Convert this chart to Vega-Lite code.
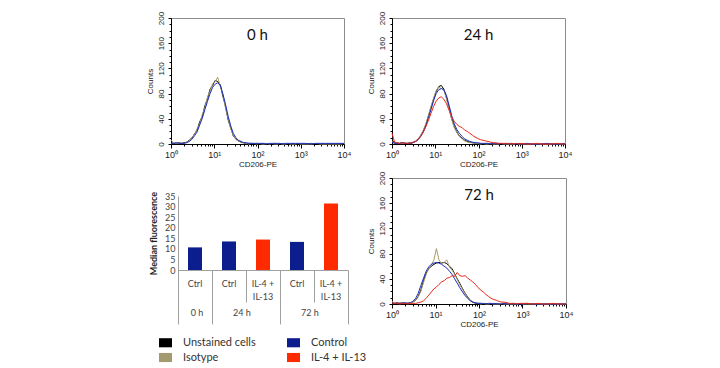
{
  "$schema": "https://vega.github.io/schema/vega-lite/v6.json",
  "padding": {"left": 145, "top": 10, "right": 5, "bottom": 5},
  "background": "#ffffff",
  "config": {
    "view": {"stroke": "#8c8c8c", "strokeWidth": 1},
    "axis": {"grid": false},
    "title": {"font": "Lato", "fontSize": 15, "fontWeight": "normal", "color": "#111111", "anchor": "middle", "baseline": "middle", "frame": "group", "offset": -32}
  },
  "datasets": {
    "h0": [
      {"x": 1, "unstained": 2, "isotype": 6, "control": 1},
      {"x": 1.15, "unstained": 1, "isotype": 2, "control": 1},
      {"x": 1.3, "unstained": 1, "isotype": 1, "control": 2},
      {"x": 1.5, "unstained": 2, "isotype": 1, "control": 1},
      {"x": 1.75, "unstained": 1, "isotype": 2, "control": 1},
      {"x": 2, "unstained": 2, "isotype": 1, "control": 1},
      {"x": 2.3, "unstained": 3, "isotype": 3, "control": 2},
      {"x": 2.65, "unstained": 6, "isotype": 5, "control": 4},
      {"x": 3, "unstained": 9, "isotype": 10, "control": 7},
      {"x": 3.5, "unstained": 16, "isotype": 15, "control": 13},
      {"x": 4, "unstained": 22, "isotype": 24, "control": 19},
      {"x": 4.6, "unstained": 35, "isotype": 32, "control": 30},
      {"x": 5.3, "unstained": 44, "isotype": 47, "control": 41},
      {"x": 6.1, "unstained": 61, "isotype": 58, "control": 55},
      {"x": 7, "unstained": 72, "isotype": 75, "control": 68},
      {"x": 8, "unstained": 87, "isotype": 84, "control": 80},
      {"x": 9.2, "unstained": 93, "isotype": 96, "control": 90},
      {"x": 10.5, "unstained": 101, "isotype": 99, "control": 95},
      {"x": 12, "unstained": 99, "isotype": 106, "control": 97},
      {"x": 13.8, "unstained": 94, "isotype": 91, "control": 93},
      {"x": 15.8, "unstained": 76, "isotype": 79, "control": 80},
      {"x": 18.2, "unstained": 60, "isotype": 57, "control": 63},
      {"x": 21, "unstained": 38, "isotype": 40, "control": 44},
      {"x": 24, "unstained": 26, "isotype": 24, "control": 29},
      {"x": 27.5, "unstained": 13, "isotype": 14, "control": 17},
      {"x": 31.6, "unstained": 8, "isotype": 7, "control": 10},
      {"x": 36, "unstained": 5, "isotype": 5, "control": 6},
      {"x": 42, "unstained": 3, "isotype": 2, "control": 4},
      {"x": 48, "unstained": 2, "isotype": 2, "control": 2},
      {"x": 55, "unstained": 1, "isotype": 1, "control": 2},
      {"x": 63, "unstained": 1, "isotype": 0, "control": 1},
      {"x": 72, "unstained": 1, "isotype": 1, "control": 1},
      {"x": 83, "unstained": 0, "isotype": 1, "control": 1},
      {"x": 95, "unstained": 1, "isotype": 0, "control": 1},
      {"x": 110, "unstained": 0, "isotype": 1, "control": 1},
      {"x": 126, "unstained": 1, "isotype": 0, "control": 1},
      {"x": 145, "unstained": 0, "isotype": 0, "control": 1},
      {"x": 166, "unstained": 1, "isotype": 1, "control": 0},
      {"x": 190, "unstained": 0, "isotype": 0, "control": 1},
      {"x": 220, "unstained": 0, "isotype": 1, "control": 1},
      {"x": 250, "unstained": 1, "isotype": 0, "control": 1},
      {"x": 290, "unstained": 0, "isotype": 0, "control": 1},
      {"x": 330, "unstained": 0, "isotype": 1, "control": 1},
      {"x": 380, "unstained": 1, "isotype": 0, "control": 0},
      {"x": 440, "unstained": 0, "isotype": 0, "control": 1},
      {"x": 500, "unstained": 0, "isotype": 1, "control": 1},
      {"x": 580, "unstained": 0, "isotype": 0, "control": 1},
      {"x": 660, "unstained": 1, "isotype": 0, "control": 1},
      {"x": 760, "unstained": 0, "isotype": 0, "control": 1},
      {"x": 870, "unstained": 0, "isotype": 1, "control": 1},
      {"x": 1000, "unstained": 0, "isotype": 0, "control": 1},
      {"x": 1300, "unstained": 0, "isotype": 0, "control": 1},
      {"x": 1700, "unstained": 1, "isotype": 0, "control": 0},
      {"x": 2200, "unstained": 0, "isotype": 1, "control": 1},
      {"x": 2900, "unstained": 0, "isotype": 0, "control": 1},
      {"x": 3800, "unstained": 0, "isotype": 0, "control": 1},
      {"x": 5000, "unstained": 0, "isotype": 0, "control": 1},
      {"x": 6500, "unstained": 0, "isotype": 0, "control": 1},
      {"x": 8500, "unstained": 0, "isotype": 0, "control": 1},
      {"x": 10000, "unstained": 0, "isotype": 1, "control": 1}
    ],
    "h24": [
      {"x": 1, "unstained": 6, "isotype": 4, "control": 3, "il4": 17},
      {"x": 1.15, "unstained": 2, "isotype": 1, "control": 1, "il4": 3},
      {"x": 1.3, "unstained": 1, "isotype": 2, "control": 1, "il4": 2},
      {"x": 1.5, "unstained": 1, "isotype": 1, "control": 1, "il4": 1},
      {"x": 1.75, "unstained": 2, "isotype": 1, "control": 2, "il4": 2},
      {"x": 2, "unstained": 1, "isotype": 2, "control": 1, "il4": 1},
      {"x": 2.3, "unstained": 1, "isotype": 1, "control": 1, "il4": 1},
      {"x": 2.65, "unstained": 1, "isotype": 2, "control": 2, "il4": 2},
      {"x": 3, "unstained": 2, "isotype": 3, "control": 2, "il4": 2},
      {"x": 3.5, "unstained": 4, "isotype": 5, "control": 4, "il4": 4},
      {"x": 4, "unstained": 7, "isotype": 8, "control": 7, "il4": 7},
      {"x": 4.6, "unstained": 13, "isotype": 14, "control": 12, "il4": 12},
      {"x": 5.3, "unstained": 21, "isotype": 22, "control": 19, "il4": 19},
      {"x": 6.1, "unstained": 31, "isotype": 33, "control": 29, "il4": 28},
      {"x": 7, "unstained": 45, "isotype": 46, "control": 42, "il4": 38},
      {"x": 8, "unstained": 58, "isotype": 60, "control": 55, "il4": 49},
      {"x": 9.2, "unstained": 72, "isotype": 73, "control": 69, "il4": 60},
      {"x": 10.5, "unstained": 83, "isotype": 85, "control": 80, "il4": 68},
      {"x": 12, "unstained": 91, "isotype": 90, "control": 86, "il4": 73},
      {"x": 13.8, "unstained": 93, "isotype": 88, "control": 88, "il4": 75},
      {"x": 15.8, "unstained": 87, "isotype": 86, "control": 86, "il4": 71},
      {"x": 18.2, "unstained": 74, "isotype": 71, "control": 77, "il4": 64},
      {"x": 21, "unstained": 57, "isotype": 55, "control": 61, "il4": 53},
      {"x": 24, "unstained": 40, "isotype": 39, "control": 45, "il4": 43},
      {"x": 27.5, "unstained": 28, "isotype": 26, "control": 32, "il4": 36},
      {"x": 31.6, "unstained": 19, "isotype": 18, "control": 23, "il4": 31},
      {"x": 36, "unstained": 13, "isotype": 12, "control": 17, "il4": 28},
      {"x": 42, "unstained": 9, "isotype": 8, "control": 12, "il4": 26},
      {"x": 48, "unstained": 6, "isotype": 5, "control": 8, "il4": 22},
      {"x": 55, "unstained": 4, "isotype": 3, "control": 6, "il4": 20},
      {"x": 63, "unstained": 3, "isotype": 2, "control": 4, "il4": 17},
      {"x": 72, "unstained": 2, "isotype": 2, "control": 3, "il4": 14},
      {"x": 83, "unstained": 1, "isotype": 1, "control": 2, "il4": 11},
      {"x": 95, "unstained": 1, "isotype": 1, "control": 2, "il4": 9},
      {"x": 110, "unstained": 1, "isotype": 0, "control": 1, "il4": 7},
      {"x": 126, "unstained": 0, "isotype": 1, "control": 1, "il4": 6},
      {"x": 145, "unstained": 1, "isotype": 0, "control": 1, "il4": 5},
      {"x": 166, "unstained": 0, "isotype": 0, "control": 1, "il4": 4},
      {"x": 190, "unstained": 1, "isotype": 1, "control": 0, "il4": 3},
      {"x": 220, "unstained": 0, "isotype": 0, "control": 1, "il4": 2},
      {"x": 250, "unstained": 0, "isotype": 0, "control": 1, "il4": 2},
      {"x": 290, "unstained": 1, "isotype": 0, "control": 0, "il4": 1},
      {"x": 330, "unstained": 0, "isotype": 1, "control": 1, "il4": 1},
      {"x": 380, "unstained": 0, "isotype": 0, "control": 0, "il4": 1},
      {"x": 440, "unstained": 0, "isotype": 0, "control": 1, "il4": 1},
      {"x": 500, "unstained": 1, "isotype": 0, "control": 0, "il4": 0},
      {"x": 580, "unstained": 0, "isotype": 0, "control": 1, "il4": 1},
      {"x": 660, "unstained": 0, "isotype": 0, "control": 0, "il4": 0},
      {"x": 760, "unstained": 0, "isotype": 1, "control": 0, "il4": 1},
      {"x": 870, "unstained": 0, "isotype": 0, "control": 1, "il4": 0},
      {"x": 1000, "unstained": 0, "isotype": 0, "control": 0, "il4": 1},
      {"x": 1300, "unstained": 0, "isotype": 0, "control": 1, "il4": 0},
      {"x": 1700, "unstained": 0, "isotype": 0, "control": 0, "il4": 0},
      {"x": 2200, "unstained": 0, "isotype": 0, "control": 0, "il4": 1},
      {"x": 2900, "unstained": 0, "isotype": 0, "control": 0, "il4": 0},
      {"x": 3800, "unstained": 0, "isotype": 0, "control": 1, "il4": 0},
      {"x": 5000, "unstained": 0, "isotype": 0, "control": 0, "il4": 0},
      {"x": 6500, "unstained": 0, "isotype": 0, "control": 0, "il4": 1},
      {"x": 8500, "unstained": 0, "isotype": 0, "control": 0, "il4": 0},
      {"x": 10000, "unstained": 0, "isotype": 0, "control": 1, "il4": 0}
    ],
    "h72": [
      {"x": 1, "unstained": 3, "isotype": 4, "control": 2, "il4": 2},
      {"x": 1.15, "unstained": 1, "isotype": 1, "control": 1, "il4": 1},
      {"x": 1.3, "unstained": 2, "isotype": 1, "control": 1, "il4": 1},
      {"x": 1.5, "unstained": 1, "isotype": 2, "control": 1, "il4": 0},
      {"x": 1.75, "unstained": 2, "isotype": 1, "control": 1, "il4": 1},
      {"x": 2, "unstained": 1, "isotype": 1, "control": 2, "il4": 1},
      {"x": 2.3, "unstained": 1, "isotype": 2, "control": 1, "il4": 0},
      {"x": 2.65, "unstained": 2, "isotype": 2, "control": 2, "il4": 1},
      {"x": 3, "unstained": 3, "isotype": 3, "control": 4, "il4": 1},
      {"x": 3.5, "unstained": 6, "isotype": 6, "control": 9, "il4": 1},
      {"x": 4, "unstained": 12, "isotype": 11, "control": 17, "il4": 2},
      {"x": 4.6, "unstained": 22, "isotype": 20, "control": 29, "il4": 3},
      {"x": 5.3, "unstained": 37, "isotype": 34, "control": 41, "il4": 5},
      {"x": 6.1, "unstained": 49, "isotype": 47, "control": 52, "il4": 9},
      {"x": 7, "unstained": 56, "isotype": 57, "control": 59, "il4": 14},
      {"x": 8, "unstained": 60, "isotype": 62, "control": 63, "il4": 19},
      {"x": 9.2, "unstained": 63, "isotype": 70, "control": 65, "il4": 24},
      {"x": 10.5, "unstained": 65, "isotype": 88, "control": 66, "il4": 27},
      {"x": 12, "unstained": 66, "isotype": 70, "control": 65, "il4": 31},
      {"x": 13.8, "unstained": 65, "isotype": 64, "control": 63, "il4": 35},
      {"x": 15.8, "unstained": 66, "isotype": 66, "control": 60, "il4": 37},
      {"x": 18.2, "unstained": 64, "isotype": 70, "control": 57, "il4": 41},
      {"x": 21, "unstained": 60, "isotype": 58, "control": 52, "il4": 42},
      {"x": 24, "unstained": 56, "isotype": 54, "control": 47, "il4": 45},
      {"x": 27.5, "unstained": 48, "isotype": 47, "control": 40, "il4": 44},
      {"x": 31.6, "unstained": 40, "isotype": 39, "control": 33, "il4": 50},
      {"x": 36, "unstained": 33, "isotype": 31, "control": 26, "il4": 45},
      {"x": 42, "unstained": 24, "isotype": 23, "control": 19, "il4": 44},
      {"x": 48, "unstained": 17, "isotype": 16, "control": 13, "il4": 45},
      {"x": 55, "unstained": 11, "isotype": 10, "control": 9, "il4": 41},
      {"x": 63, "unstained": 6, "isotype": 6, "control": 5, "il4": 38},
      {"x": 72, "unstained": 3, "isotype": 3, "control": 3, "il4": 35},
      {"x": 83, "unstained": 1, "isotype": 2, "control": 2, "il4": 31},
      {"x": 95, "unstained": 1, "isotype": 1, "control": 1, "il4": 26},
      {"x": 110, "unstained": 1, "isotype": 0, "control": 1, "il4": 22},
      {"x": 126, "unstained": 0, "isotype": 1, "control": 1, "il4": 19},
      {"x": 145, "unstained": 1, "isotype": 0, "control": 0, "il4": 15},
      {"x": 166, "unstained": 0, "isotype": 0, "control": 1, "il4": 12},
      {"x": 190, "unstained": 0, "isotype": 1, "control": 1, "il4": 9},
      {"x": 220, "unstained": 1, "isotype": 0, "control": 0, "il4": 7},
      {"x": 250, "unstained": 0, "isotype": 0, "control": 1, "il4": 6},
      {"x": 290, "unstained": 0, "isotype": 0, "control": 0, "il4": 4},
      {"x": 330, "unstained": 0, "isotype": 1, "control": 0, "il4": 3},
      {"x": 380, "unstained": 1, "isotype": 0, "control": 1, "il4": 3},
      {"x": 440, "unstained": 0, "isotype": 0, "control": 0, "il4": 2},
      {"x": 500, "unstained": 0, "isotype": 0, "control": 0, "il4": 1},
      {"x": 580, "unstained": 0, "isotype": 0, "control": 1, "il4": 1},
      {"x": 660, "unstained": 0, "isotype": 0, "control": 0, "il4": 1},
      {"x": 760, "unstained": 0, "isotype": 0, "control": 0, "il4": 0},
      {"x": 870, "unstained": 0, "isotype": 1, "control": 0, "il4": 1},
      {"x": 1000, "unstained": 0, "isotype": 0, "control": 0, "il4": 1},
      {"x": 1300, "unstained": 0, "isotype": 0, "control": 1, "il4": 1},
      {"x": 1700, "unstained": 0, "isotype": 0, "control": 0, "il4": 0},
      {"x": 2200, "unstained": 0, "isotype": 0, "control": 0, "il4": 1},
      {"x": 2900, "unstained": 0, "isotype": 0, "control": 0, "il4": 0},
      {"x": 3800, "unstained": 0, "isotype": 0, "control": 0, "il4": 0},
      {"x": 5000, "unstained": 0, "isotype": 0, "control": 0, "il4": 1},
      {"x": 6500, "unstained": 0, "isotype": 0, "control": 0, "il4": 0},
      {"x": 8500, "unstained": 0, "isotype": 0, "control": 0, "il4": 0},
      {"x": 10000, "unstained": 0, "isotype": 0, "control": 0, "il4": 0}
    ],
    "medians": [
      {"time": "0 h", "treatment": "Control", "sample": "0 h Control", "median": 10.7},
      {"time": "24 h", "treatment": "Control", "sample": "24 h Control", "median": 13.5},
      {"time": "24 h", "treatment": "IL-4 + IL-13", "sample": "24 h IL-4 + IL-13", "median": 14.4},
      {"time": "72 h", "treatment": "Control", "sample": "72 h Control", "median": 13.3},
      {"time": "72 h", "treatment": "IL-4 + IL-13", "sample": "72 h IL-4 + IL-13", "median": 31.4}
    ]
  },
  "spacing": 14,
  "resolve": {"scale": {"color": "shared", "stroke": "shared"}},
  "hconcat": [
    {
      "spacing": 22,
      "vconcat": [
        {
          "data": {"name": "h0"},
          "width": 173,
          "height": 126,
          "title": {"text": "0 h"},
          "transform": [{"fold": ["unstained", "isotype", "control"], "as": ["stain", "count"]}],
          "mark": {"type": "line", "strokeWidth": 1},
          "encoding": {
            "x": {
              "field": "x", "type": "quantitative",
              "scale": {"type": "log", "domain": [1, 10000]},
              "axis": {
                "title": "CD206-PE", "titleFont": "Liberation Sans", "titleFontSize": 8, "titleFontWeight": "normal", "titleColor": "#222222", "titlePadding": 1,
                "values": [1, 2, 3, 4, 5, 6, 7, 8, 9, 10, 20, 30, 40, 50, 60, 70, 80, 90, 100, 200, 300, 400, 500, 600, 700, 800, 900, 1000, 2000, 3000, 4000, 5000, 6000, 7000, 8000, 9000, 10000],
                "labelExpr": "datum.value == 1 ? '10⁰' : datum.value == 10 ? '10¹' : datum.value == 100 ? '10²' : datum.value == 1000 ? '10³' : datum.value == 10000 ? '10⁴' : ''",
                "labelFont": "Liberation Sans", "labelFontSize": 9, "labelColor": "#222222", "labelPadding": 2, "labelOverlap": false, "labelFlush": false, "labelBound": false,
                "tickSize": {"condition": {"test": "indexof([1, 10, 100, 1000, 10000], datum.value) >= 0", "value": 4}, "value": 2},
                "tickColor": "#000000", "domainColor": "#000000"
              }
            },
            "y": {
              "field": "count", "type": "quantitative",
              "scale": {"domain": [0, 200]},
              "axis": {
                "title": "Counts", "titleFont": "Liberation Sans", "titleFontSize": 8, "titleFontWeight": "normal", "titleColor": "#222222", "titlePadding": 3,
                "values": [0, 10, 20, 30, 40, 50, 60, 70, 80, 90, 100, 110, 120, 130, 140, 150, 160, 170, 180, 190, 200],
                "labelExpr": "datum.value % 40 == 0 ? datum.label : ''",
                "labelAngle": -90, "labelAlign": "center", "labelBaseline": "bottom",
                "labelFont": "Liberation Sans", "labelFontSize": 8, "labelColor": "#222222", "labelPadding": 3, "labelOverlap": false, "labelFlush": false, "labelBound": false,
                "tickSize": {"condition": {"test": "datum.value % 40 == 0", "value": 3}, "value": 2},
                "tickColor": "#000000", "domainColor": "#000000"
              }
            },
            "stroke": {
              "field": "stain", "type": "nominal",
              "scale": {"domain": ["unstained", "isotype", "control", "il4"], "range": ["#000000", "#a89b6c", "#1a2fc0", "#e8281a"]},
              "legend": null
            }
          }
        },
        {
          "data": {"name": "medians"},
          "width": 177,
          "height": 74,
          "view": {"stroke": null},
          "layer": [
            {
              "mark": {"type": "bar", "size": 14},
              "encoding": {
                "x": {
                  "field": "sample", "type": "nominal", "sort": null,
                  "scale": {"range": [7, 177], "paddingInner": 0, "paddingOuter": 0},
                  "axis": {
                    "orient": "bottom", "title": null, "labels": false,
                    "tickBand": "extent", "tickColor": "#a0a0a0", "domainColor": "#a0a0a0",
                    "tickSize": {"condition": {"test": "datum.value === '24 h Control' || datum.value === '72 h Control'", "value": 32}, "value": 54}
                  }
                },
                "y": {
                  "field": "median", "type": "quantitative",
                  "scale": {"domain": [0, 35]},
                  "axis": {
                    "title": "Median fluorescence", "titleFont": "Lato", "titleFontSize": 9, "titleFontWeight": "bold", "titleColor": "#222222", "titlePadding": 6,
                    "values": [0, 5, 10, 15, 20, 25, 30, 35], "ticks": false, "tickSize": 0, "offset": -7,
                    "labelFont": "Lato", "labelFontSize": 9, "labelColor": "#444444", "labelPadding": 3, "labelOverlap": false, "labelBound": false, "labelFlush": false,
                    "domainColor": "#a0a0a0"
                  }
                },
                "color": {
                  "field": "treatment", "type": "nominal",
                  "scale": {"domain": ["Unstained cells", "Isotype", "Control", "IL-4 + IL-13"], "range": ["#000000", "#a39a70", "#0c1d8e", "#ff2a00"]},
                  "legend": {
                    "orient": "none", "legendX": -12, "legendY": 318, "title": null, "columns": 2,
                    "symbolType": "M-1,-0.7H1V0.7H-1Z", "symbolSize": 169, "symbolStrokeWidth": 0,
                    "labelFont": "Lato", "labelFontSize": 11, "labelColor": "#333333", "labelOffset": 11,
                    "columnPadding": 31, "rowPadding": 3
                  }
                }
              }
            },
            {
              "mark": {"type": "point", "opacity": 0},
              "encoding": {
                "x": {
                  "field": "sample", "type": "nominal", "sort": null,
                  "axis": {
                    "orient": "bottom", "title": null, "domain": false, "ticks": false, "tickSize": 0, "labelPadding": 9, "labelAngle": 0,
                    "labelExpr": "indexof(datum.value, 'IL-4') >= 0 ? ['IL-4 +', 'IL-13'] : 'Ctrl'",
                    "labelFont": "Lato", "labelFontSize": 9, "labelColor": "#444444", "labelBaseline": "top", "labelLineHeight": 13, "labelOverlap": false
                  }
                },
                "y": {
                  "field": "median", "type": "quantitative",
                  "axis": {
                    "title": "Median fluorescence", "titleFont": "Lato", "titleFontSize": 9, "titleFontWeight": "bold", "titleColor": "#222222", "titlePadding": 6,
                    "values": [0, 5, 10, 15, 20, 25, 30, 35], "ticks": false, "tickSize": 0, "offset": -7,
                    "labelFont": "Lato", "labelFontSize": 9, "labelColor": "#444444", "labelPadding": 3, "labelOverlap": false, "labelBound": false, "labelFlush": false,
                    "domainColor": "#a0a0a0"
                  }
                }
              }
            },
            {
              "mark": {"type": "point", "opacity": 0},
              "encoding": {
                "x": {
                  "field": "sample", "type": "nominal", "sort": null,
                  "axis": {
                    "orient": "bottom", "title": null, "domain": false, "ticks": false, "tickSize": 0, "offset": 36, "labelPadding": 2, "labelAngle": 0,
                    "labelExpr": "datum.value === '0 h Control' ? '0 h' : datum.value === '24 h Control' ? '24 h' : datum.value === '72 h Control' ? '72 h' : ''",
                    "labelOffset": {"condition": {"test": "datum.value === '0 h Control'", "value": 2}, "value": 13},
                    "labelFont": "Lato", "labelFontSize": 9, "labelColor": "#444444", "labelBaseline": "top", "labelOverlap": false
                  }
                },
                "y": {
                  "field": "median", "type": "quantitative",
                  "axis": {
                    "title": "Median fluorescence", "titleFont": "Lato", "titleFontSize": 9, "titleFontWeight": "bold", "titleColor": "#222222", "titlePadding": 6,
                    "values": [0, 5, 10, 15, 20, 25, 30, 35], "ticks": false, "tickSize": 0, "offset": -7,
                    "labelFont": "Lato", "labelFontSize": 9, "labelColor": "#444444", "labelPadding": 3, "labelOverlap": false, "labelBound": false, "labelFlush": false,
                    "domainColor": "#a0a0a0"
                  }
                }
              }
            }
          ],
          "resolve": {"axis": {"x": "independent"}}
        }
      ]
    },
    {
      "spacing": 1,
      "vconcat": [
        {
          "data": {"name": "h24"},
          "width": 173,
          "height": 126,
          "title": {"text": "24 h"},
          "transform": [{"fold": ["unstained", "isotype", "control", "il4"], "as": ["stain", "count"]}],
          "mark": {"type": "line", "strokeWidth": 1},
          "encoding": {
            "x": {
              "field": "x", "type": "quantitative",
              "scale": {"type": "log", "domain": [1, 10000]},
              "axis": {
                "title": "CD206-PE", "titleFont": "Liberation Sans", "titleFontSize": 8, "titleFontWeight": "normal", "titleColor": "#222222", "titlePadding": 1,
                "values": [1, 2, 3, 4, 5, 6, 7, 8, 9, 10, 20, 30, 40, 50, 60, 70, 80, 90, 100, 200, 300, 400, 500, 600, 700, 800, 900, 1000, 2000, 3000, 4000, 5000, 6000, 7000, 8000, 9000, 10000],
                "labelExpr": "datum.value == 1 ? '10⁰' : datum.value == 10 ? '10¹' : datum.value == 100 ? '10²' : datum.value == 1000 ? '10³' : datum.value == 10000 ? '10⁴' : ''",
                "labelFont": "Liberation Sans", "labelFontSize": 9, "labelColor": "#222222", "labelPadding": 2, "labelOverlap": false, "labelFlush": false, "labelBound": false,
                "tickSize": {"condition": {"test": "indexof([1, 10, 100, 1000, 10000], datum.value) >= 0", "value": 4}, "value": 2},
                "tickColor": "#000000", "domainColor": "#000000"
              }
            },
            "y": {
              "field": "count", "type": "quantitative",
              "scale": {"domain": [0, 200]},
              "axis": {
                "title": "Counts", "titleFont": "Liberation Sans", "titleFontSize": 8, "titleFontWeight": "normal", "titleColor": "#222222", "titlePadding": 3,
                "values": [0, 10, 20, 30, 40, 50, 60, 70, 80, 90, 100, 110, 120, 130, 140, 150, 160, 170, 180, 190, 200],
                "labelExpr": "datum.value % 40 == 0 ? datum.label : ''",
                "labelAngle": -90, "labelAlign": "center", "labelBaseline": "bottom",
                "labelFont": "Liberation Sans", "labelFontSize": 8, "labelColor": "#222222", "labelPadding": 3, "labelOverlap": false, "labelFlush": false, "labelBound": false,
                "tickSize": {"condition": {"test": "datum.value % 40 == 0", "value": 3}, "value": 2},
                "tickColor": "#000000", "domainColor": "#000000"
              }
            },
            "stroke": {
              "field": "stain", "type": "nominal",
              "scale": {"domain": ["unstained", "isotype", "control", "il4"], "range": ["#000000", "#a89b6c", "#1a2fc0", "#e8281a"]},
              "legend": null
            }
          }
        },
        {
          "data": {"name": "h72"},
          "width": 174,
          "height": 126,
          "title": {"text": "72 h"},
          "transform": [{"fold": ["unstained", "isotype", "control", "il4"], "as": ["stain", "count"]}],
          "mark": {"type": "line", "strokeWidth": 1},
          "encoding": {
            "x": {
              "field": "x", "type": "quantitative",
              "scale": {"type": "log", "domain": [1, 10000]},
              "axis": {
                "title": "CD206-PE", "titleFont": "Liberation Sans", "titleFontSize": 8, "titleFontWeight": "normal", "titleColor": "#222222", "titlePadding": 1,
                "values": [1, 2, 3, 4, 5, 6, 7, 8, 9, 10, 20, 30, 40, 50, 60, 70, 80, 90, 100, 200, 300, 400, 500, 600, 700, 800, 900, 1000, 2000, 3000, 4000, 5000, 6000, 7000, 8000, 9000, 10000],
                "labelExpr": "datum.value == 1 ? '10⁰' : datum.value == 10 ? '10¹' : datum.value == 100 ? '10²' : datum.value == 1000 ? '10³' : datum.value == 10000 ? '10⁴' : ''",
                "labelFont": "Liberation Sans", "labelFontSize": 9, "labelColor": "#222222", "labelPadding": 2, "labelOverlap": false, "labelFlush": false, "labelBound": false,
                "tickSize": {"condition": {"test": "indexof([1, 10, 100, 1000, 10000], datum.value) >= 0", "value": 4}, "value": 2},
                "tickColor": "#000000", "domainColor": "#000000"
              }
            },
            "y": {
              "field": "count", "type": "quantitative",
              "scale": {"domain": [0, 200]},
              "axis": {
                "title": "Counts", "titleFont": "Liberation Sans", "titleFontSize": 8, "titleFontWeight": "normal", "titleColor": "#222222", "titlePadding": 3,
                "values": [0, 10, 20, 30, 40, 50, 60, 70, 80, 90, 100, 110, 120, 130, 140, 150, 160, 170, 180, 190, 200],
                "labelExpr": "datum.value % 40 == 0 ? datum.label : ''",
                "labelAngle": -90, "labelAlign": "center", "labelBaseline": "bottom",
                "labelFont": "Liberation Sans", "labelFontSize": 8, "labelColor": "#222222", "labelPadding": 3, "labelOverlap": false, "labelFlush": false, "labelBound": false,
                "tickSize": {"condition": {"test": "datum.value % 40 == 0", "value": 3}, "value": 2},
                "tickColor": "#000000", "domainColor": "#000000"
              }
            },
            "stroke": {
              "field": "stain", "type": "nominal",
              "scale": {"domain": ["unstained", "isotype", "control", "il4"], "range": ["#000000", "#a89b6c", "#1a2fc0", "#e8281a"]},
              "legend": null
            }
          }
        }
      ]
    }
  ]
}
